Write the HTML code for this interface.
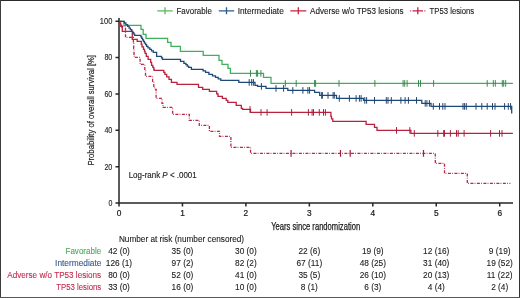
<!DOCTYPE html>
<html><head><meta charset="utf-8">
<style>
html,body{margin:0;padding:0;background:#fff;}
body{width:520px;height:298px;overflow:hidden;}
svg{display:block;will-change:transform;font-family:"Liberation Sans",sans-serif;}
</style></head><body>
<svg width="520" height="298" viewBox="0 0 520 298">
<rect x="0" y="0" width="520" height="298" fill="#fff"/>
<!-- border -->
<g stroke-width="1" fill="none">
<path d="M0 0.5H520" stroke="#2a2a2a"/>
<path d="M0.5 0V298" stroke="#3c3c3c"/>
<path d="M519.5 0V298" stroke="#333"/>
<path d="M0 297.5H520" stroke="#585858"/>
</g>

<!-- legend -->
<g stroke-width="1.3" fill="none">
<path d="M157.3 10.9H172.7M165 7.2V14.3" stroke="#5cb85c"/>
<path d="M218.8 10.9H234.2M226.5 7.2V14.3" stroke="#2b5d8c"/>
<path d="M290.3 10.9H306.3M298.3 7.2V14.3" stroke="#c8243f"/>
<path d="M410.2 10.9H411.2M412.6 10.9H423M424.4 10.9H425.4M417.8 7.2V14.3" stroke="#c8204a"/>
</g>
<g font-size="8.3" fill="#1a1a1a" stroke="#1a1a1a" stroke-width="0.12">
<text x="176.5" y="13.5" textLength="35.4" lengthAdjust="spacingAndGlyphs">Favorable</text>
<text x="237.7" y="13.5" textLength="46.1" lengthAdjust="spacingAndGlyphs">Intermediate</text>
<text x="310" y="13.5" textLength="93.5" lengthAdjust="spacingAndGlyphs">Adverse w/o TP53 lesions</text>
<text x="429.6" y="13.5" textLength="44.6" lengthAdjust="spacingAndGlyphs">TP53 lesions</text>
</g>

<!-- axes -->
<g stroke="#262626" stroke-width="1.5" fill="none">
<path d="M119 18V203H513"/>
<path d="M115.5 21.3H119M115.5 57.6H119M115.5 94H119M115.5 130.3H119M115.5 166.7H119M115.5 203H119"/>
<path d="M119 203V206.5M182.45 203V206.5M245.9 203V206.5M309.35 203V206.5M372.8 203V206.5M436.25 203V206.5M499.7 203V206.5"/>
</g>
<g font-size="8.6" fill="#1a1a1a" stroke="#1a1a1a" stroke-width="0.12" text-anchor="end">
<text x="112.3" y="23.9" textLength="12.5" lengthAdjust="spacingAndGlyphs">100</text>
<text x="112.3" y="60.3" textLength="7.9" lengthAdjust="spacingAndGlyphs">80</text>
<text x="112.3" y="96.7" textLength="7.9" lengthAdjust="spacingAndGlyphs">60</text>
<text x="112.3" y="133.1" textLength="7.9" lengthAdjust="spacingAndGlyphs">40</text>
<text x="112.3" y="169.5" textLength="7.9" lengthAdjust="spacingAndGlyphs">20</text>
<text x="112.3" y="205.9" textLength="3.9" lengthAdjust="spacingAndGlyphs">0</text>
</g>
<g font-size="8.3" fill="#1a1a1a" stroke="#1a1a1a" stroke-width="0.22" text-anchor="middle">
<text x="119" y="215.8">0</text>
<text x="182.45" y="215.8">1</text>
<text x="245.9" y="215.8">2</text>
<text x="309.35" y="215.8">3</text>
<text x="372.8" y="215.8">4</text>
<text x="436.25" y="215.8">5</text>
<text x="499.7" y="215.8">6</text>
</g>
<text x="271.2" y="229.7" font-size="10.6" fill="#1a1a1a" stroke="#1a1a1a" stroke-width="0.25" textLength="89" lengthAdjust="spacingAndGlyphs">Years since randomization</text>
<text transform="translate(93.5 165.6) rotate(-90)" x="0" y="0" font-size="9.4" stroke="#1a1a1a" stroke-width="0.2" fill="#1e1e1e" textLength="110.6" lengthAdjust="spacingAndGlyphs">Probability of overall survival [%]</text>
<text x="128.7" y="178.3" font-size="8.6" fill="#1a1a1a" stroke="#1a1a1a" stroke-width="0.12" textLength="68" lengthAdjust="spacingAndGlyphs">Log-rank <tspan font-style="italic">P</tspan> &lt; .0001</text>

<!-- CURVES -->
<g fill="none" stroke-width="1.3" stroke-linejoin="miter" stroke-linecap="butt">
<path d="M119.0 21.3H120.5V26.4H125.5V37.4H133.4V43.4H133.7V48.4H134.0V54.4H134.3V57.4H140.1V64.4H144.8V70.4H145.5V76.4H152.6V81.4H153.8V87.4H154.5V89.4H156.1V98.4H162.0V103.4H163.0V107.4H172.6V114.4H189.3V120.4H199.3V125.4H209.4V131.4H219.5V136.4H230.9V147.4H250.5V153.4H435.3V163.4H444.5V173.4H467.3V183.4H510.4" stroke="#bc2648" stroke-dasharray="3 1.2 0.8 1.5"/>
<path d="M291.1 150.1V156.7M340.5 150.1V156.7M350.2 150.1V156.7M423.5 150.1V156.7" stroke="#a01c3a" stroke-width="1.2"/>
<path d="M119.0 21.3H124.0V25.4H141.0V29.4H143.2V34.4H146.0V38.4H167.6V42.4H171.0V46.4H180.4V51.4H203.2V55.4H219.0V60.4H222.0V64.4H228.0V68.4H230.4V73.4H263.5V77.4H271.0V83.4H512.9" stroke="#3fb05e"/>
<path d="M250.5 70.1V76.7M256.4 70.1V76.7M257.6 70.1V76.7M260.9 70.1V76.7M285.3 80.1V86.7M296.2 80.1V86.7M314.6 80.1V86.7M315.6 80.1V86.7M339.0 80.1V86.7M374.9 80.1V86.7M403.1 80.1V86.7M404.7 80.1V86.7M407.1 80.1V86.7M418.5 80.1V86.7M420.5 80.1V86.7M433.6 80.1V86.7M487.2 80.1V86.7M493.3 80.1V86.7M495.3 80.1V86.7M502.3 80.1V86.7M503.7 80.1V86.7M505.7 80.1V86.7" stroke="#3a8a50" stroke-width="1"/>
<path d="M119.0 21.3H119.5V23.3H120.7V25.4H121.8V27.4H122.3V31.4H132.3V39.4H137.2V41.4H141.3V44.4H142.0V46.9H143.5V49.4H144.2H144.5V51.4H145.1V53.4H145.4H146.3V56.4H147.2H148.1V59.4H148.9H150.7V62.4H151.6V65.4H152.4H152.8V67.4H153.8V69.4H154.2V70.4H163.2H163.8V72.4H164.9V74.4H165.5H166.7V76.9H169.0V79.4H170.2H171.4V82.4H172.6H177.0V84.4H198.5V87.4H202.7V89.4H209.4V91.4H216.1H216.7V93.9H218.0V96.4H218.6H222.4V98.4H226.2V100.4H227.8V102.4H229.5H236.2V105.4H241.3V108.4H242.6V109.4H243.8H250.5V112.4H330.9V116.4H331.5V118.9H332.8V121.4H333.4H366.1V124.4H374.5V127.4H377.0V130.4H410.9V133.4H512.9" stroke="#b8223f"/>
<path d="M250.0 106.1V112.7M261.0 109.1V115.7M267.1 109.1V115.7M291.6 109.1V115.7M308.4 109.1V115.7M312.1 109.1V115.7M313.5 109.1V115.7M319.3 109.1V115.7M323.5 109.1V115.7M325.4 109.1V115.7M396.5 127.1V133.7M409.8 127.1V133.7M414.3 130.1V136.7M437.8 130.1V136.7M443.7 130.1V136.7M444.5 130.1V136.7M450.4 130.1V136.7M456.5 130.1V136.7M458.2 130.1V136.7M464.1 130.1V136.7M490.6 130.1V136.7M499.5 130.1V136.7M502.0 130.1V136.7" stroke="#a8203c" stroke-width="1"/>
<path d="M119.0 21.3H123.4H124.2V23.0H125.9V24.7H127.6V26.4H128.4H129.1V28.1H130.4V29.7H131.7V31.4H132.4H132.8V32.7H133.8V34.1H134.7V35.4H135.1H140.5H140.9V36.9H141.8V38.4H142.6V39.9H143.5V41.4H143.9H144.4V43.1H145.6V44.7H146.6V46.4H147.2H148.0V47.9H149.8V49.4H150.6H151.5V50.9H153.3V52.4H154.2H156.6V56.4H161.0H161.5V57.9H162.5V59.4H163.0H178.4H180.5V61.4H182.6H183.9V63.4H185.2H185.9V64.7H187.2V66.1H188.6V67.4H189.3H191.4V69.4H193.5H201.8H203.1V70.9H205.6V72.4H206.9H208.9V74.4H211.0H212.5V75.9H215.5V77.4H217.0H218.2V78.9H220.8V80.4H222.0H238.8V82.4H255.0V85.4H257.6V86.4H266.0V88.4H287.8V90.4H314.6V92.4H319.7V95.4H336.5V98.4H363.5V100.4H421.8V103.4H431.0V106.4H511.7V113.4" stroke="#1f4a78"/>
<path d="M249.2 79.1V85.7M251.7 79.1V85.7M253.4 79.1V85.7M261.4 83.1V89.7M276.0 85.1V91.7M283.6 85.1V91.7M292.8 87.1V93.7M302.9 87.1V93.7M307.9 87.1V93.7M309.6 87.1V93.7M321.7 92.1V98.7M322.4 92.1V98.7M328.0 92.1V98.7M333.1 92.1V98.7M334.3 92.1V98.7M339.3 95.1V101.7M349.4 95.1V101.7M356.1 95.1V101.7M359.4 95.1V101.7M361.1 95.1V101.7M364.8 97.1V103.7M366.6 97.1V103.7M374.5 97.1V103.7M386.3 97.1V103.7M388.0 97.1V103.7M391.3 97.1V103.7M400.9 97.1V103.7M405.1 97.1V103.7M408.4 97.1V103.7M416.5 97.1V103.7M425.2 100.1V106.7M426.9 100.1V106.7M429.4 100.1V106.7M433.3 103.1V109.7M439.5 103.1V109.7M442.8 103.1V109.7M445.0 103.1V109.7M463.0 103.1V109.7M464.6 103.1V109.7M466.3 103.1V109.7M476.0 103.1V109.7M481.8 103.1V109.7M487.2 103.1V109.7M492.5 103.1V109.7M495.0 103.1V109.7M504.6 103.1V109.7M508.3 103.1V109.7M510.6 103.1V109.7" stroke="#1f4470" stroke-width="1"/>
</g>
<!-- /CURVES -->

<!-- table -->
<text x="118.9" y="242" font-size="8.4" fill="#1a1a1a" stroke="#1a1a1a" stroke-width="0.1" textLength="125.2" lengthAdjust="spacingAndGlyphs">Number at risk (number censored)</text>
<g font-size="8.3" text-anchor="end">
<text x="101.2" y="254" fill="#4aa85a" stroke="#4aa85a" stroke-width="0.1" textLength="35.7" lengthAdjust="spacingAndGlyphs">Favorable</text>
<text x="101.4" y="266" fill="#34598a" stroke="#34598a" stroke-width="0.1" textLength="46.3" lengthAdjust="spacingAndGlyphs">Intermediate</text>
<text x="101.2" y="278" fill="#c42a4e" stroke="#c42a4e" stroke-width="0.1" textLength="93.9" lengthAdjust="spacingAndGlyphs">Adverse w/o TP53 lesions</text>
<text x="101.2" y="290" fill="#c42a4e" stroke="#c42a4e" stroke-width="0.1" textLength="45" lengthAdjust="spacingAndGlyphs">TP53 lesions</text>
</g>
<g font-size="8.3" fill="#1a1a1a" stroke="#1a1a1a" stroke-width="0.1" text-anchor="middle">
<text x="119" y="254">42 (0)</text><text x="182.45" y="254">35 (0)</text><text x="245.9" y="254">30 (0)</text><text x="309.35" y="254">22 (6)</text><text x="372.8" y="254">19 (9)</text><text x="436.25" y="254">12 (16)</text><text x="499.7" y="254">9 (19)</text>
<text x="119" y="266">126 (1)</text><text x="182.45" y="266">97 (2)</text><text x="245.9" y="266">82 (2)</text><text x="309.35" y="266">67 (11)</text><text x="372.8" y="266">48 (25)</text><text x="436.25" y="266">31 (40)</text><text x="499.7" y="266">19 (52)</text>
<text x="119" y="278">80 (0)</text><text x="182.45" y="278">52 (0)</text><text x="245.9" y="278">41 (0)</text><text x="309.35" y="278">35 (5)</text><text x="372.8" y="278">26 (10)</text><text x="436.25" y="278">20 (13)</text><text x="499.7" y="278">11 (22)</text>
<text x="119" y="290">33 (0)</text><text x="182.45" y="290">16 (0)</text><text x="245.9" y="290">10 (0)</text><text x="309.35" y="290">8 (1)</text><text x="372.8" y="290">6 (3)</text><text x="436.25" y="290">4 (4)</text><text x="499.7" y="290">2 (4)</text>
</g>
</svg>
</body></html>
